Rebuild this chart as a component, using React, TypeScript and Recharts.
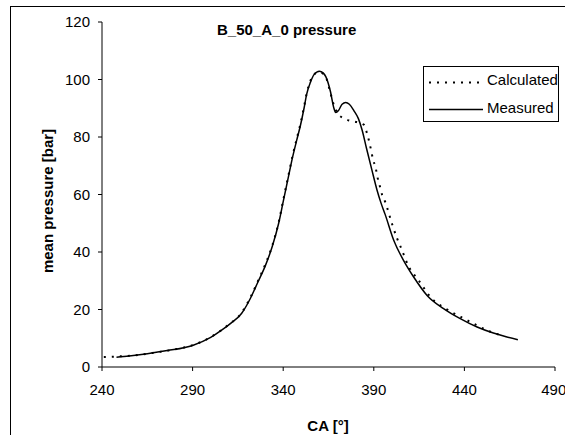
import React from 'react';
import { LineChart, Line, XAxis, YAxis, Legend, Label } from 'recharts';

// crank angle [deg] and mean pressure [bar]
const measuredCA = [
  248, 255, 265, 276, 290, 300, 306, 311, 317, 322, 326, 330, 334, 337.5, 340,
  342.5, 345, 347.5, 349.5, 351.5, 353, 355, 357, 360, 362, 363.5, 366, 368,
  369, 370.5, 372.5, 374.5, 376.5, 379, 381.5, 383.5, 386, 389, 391.8, 394,
  396.3, 401, 406.4, 412, 419.4, 428.5, 437.7, 447, 456, 463, 469.5,
];
const measuredP = [
  3.4, 3.8, 4.6, 5.7, 7.5, 10.3, 12.8, 15.2, 18.6, 24, 29.5, 35, 42, 50, 57.5,
  65, 72.5, 79, 84, 90, 95, 99, 101.7, 102.9, 102.3, 101, 96, 90,
  88.5, 89.2, 91.4, 92, 91.4, 89.2, 86.4, 82.5, 76, 68.4, 61.5, 57,
  53, 44.1, 37.1, 31.3, 24.9, 20.3, 16.8, 13.9, 11.8, 10.5, 9.5,
];

const calculatedCA = [
  241, 250, 260, 270, 280, 290, 300, 310, 317, 322, 326, 330, 334, 337.5, 340,
  342.5, 345, 347.5, 349.5, 351.5, 353, 355, 357, 360, 362, 364, 366, 368,
  370.2, 373, 376, 380.5, 384.4, 386.2, 387.5, 388.5, 389.6, 391, 392, 393.2,
  394.5, 396.3, 400, 402.8, 405, 409.2, 414.7, 422, 430, 438, 446, 453.4, 461.6,
];
const calculatedP = [
  3.5, 3.7, 4.2, 5.1, 6.1, 7.6, 10.4, 14.8, 18.8, 24.3, 29.8, 35.5, 42.3, 50.3, 58,
  65.5, 73, 79.5, 84.5, 90.5, 95.3, 99.5, 101.8, 102.5, 102, 100, 95.5, 91,
  88.1, 86.6, 85.8, 85.2, 84.3, 81.4, 78.3, 75.4, 72.1, 69.4, 66.1, 63.2,
  60.1, 57.4, 49.9, 44.8, 41.5, 35, 30.2, 23.8, 20.2, 17.4, 14.8, 12.5, 10.8,
];

const xTicks = [240, 290, 340, 390, 440, 490];
const yTicks = [0, 20, 40, 60, 80, 100, 120];

const measured = measuredCA.map((ca, i) => ({ ca, p: measuredP[i] }));
const calculated = calculatedCA.map((ca, i) => ({ ca, p: calculatedP[i] }));

const font = '"Liberation Sans", Arial, sans-serif';

const renderLegend = () => (
  <div
    style={{
      position: 'relative',
      width: 134,
      height: 54,
      border: '1px solid #000',
      background: '#fff',
      fontFamily: font,
      fontSize: 15,
      color: '#000',
    }}
  >
    <svg width={56} height={54} style={{ position: 'absolute', left: 4, top: 0 }}>
      <line x1={1} y1={15.5} x2={55} y2={15.5} stroke="#000" strokeWidth={2} strokeDasharray="2 6" />
      <line x1={1} y1={42.5} x2={55} y2={42.5} stroke="#000" strokeWidth={1.5} />
    </svg>
    <span style={{ position: 'absolute', left: 63, top: 4, lineHeight: '17px' }}>Calculated</span>
    <span style={{ position: 'absolute', left: 63, top: 32, lineHeight: '17px' }}>Measured</span>
  </div>
);

export default function App() {
  return (
    <div
      style={{
        position: 'absolute',
        left: 0,
        top: 0,
        width: 565,
        height: 435,
        overflow: 'hidden',
        background: '#fff',
      }}
    >
      <div
        style={{
          position: 'absolute',
          left: 10,
          top: 6,
          width: 800,
          height: 800,
          borderLeft: '1px solid #000',
          borderTop: '1px solid #000',
        }}
      />
      <LineChart
        width={565}
        height={435}
        margin={{ top: 22, right: 10, left: 0, bottom: 38 }}
        style={{ position: 'absolute', left: 0, top: 0 }}
      >
        <XAxis
          dataKey="ca"
          type="number"
          domain={[240, 490]}
          ticks={xTicks}
          allowDataOverflow
          height={30}
          stroke="#000"
          tickSize={4}
          tickMargin={13}
          tick={{ fill: '#000', fontSize: 15, fontFamily: font }}
        >
          <Label
            content={() => (
              <text x={328} y={431} textAnchor="middle" fontFamily={font} fontSize={15} fontWeight="bold" fill="#000">
                CA [°]
              </text>
            )}
          />
        </XAxis>
        <YAxis
          type="number"
          domain={[0, 120]}
          ticks={yTicks}
          width={102}
          stroke="#000"
          tickSize={4}
          tickMargin={8}
          tick={{ fill: '#000', fontSize: 15, fontFamily: font }}
        >
          <Label
            content={() => (
              <text
                x={47}
                y={201}
                transform="rotate(-90, 47, 201)"
                textAnchor="middle"
                dominantBaseline="central"
                fontFamily={font}
                fontSize={15}
                fontWeight="bold"
                fill="#000"
              >
                mean pressure [bar]
              </text>
            )}
          />
        </YAxis>
        <text x={217} y={35} fontFamily={font} fontSize={15} fontWeight="bold" fill="#000">
          B_50_A_0 pressure
        </text>
        <Legend
          layout="horizontal"
          verticalAlign="middle"
          align="center"
          content={renderLegend}
          wrapperStyle={{ left: 423, top: 66, width: 136, height: 56 }}
        />
        <Line
          data={calculated}
          dataKey="p"
          name="Calculated"
          type="monotone"
          stroke="#000"
          strokeWidth={2}
          strokeDasharray="2 6"
          dot={false}
          activeDot={false}
          isAnimationActive={false}
        />
        <Line
          data={measured}
          dataKey="p"
          name="Measured"
          type="monotone"
          stroke="#000"
          strokeWidth={1.5}
          dot={false}
          activeDot={false}
          isAnimationActive={false}
        />
      </LineChart>
    </div>
  );
}
